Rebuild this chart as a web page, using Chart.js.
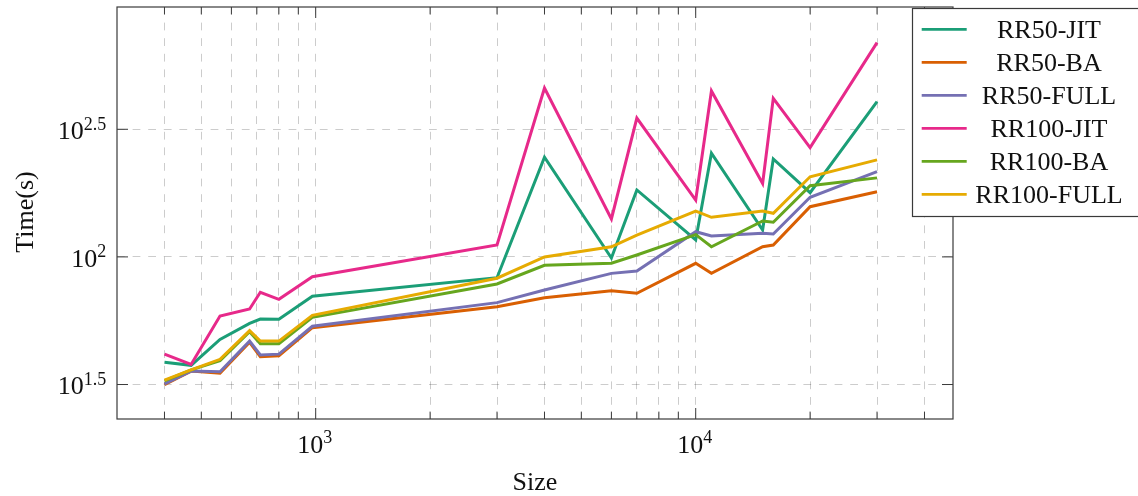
<!DOCTYPE html>
<html>
<head>
<meta charset="utf-8">
<script src="https://cdn.jsdelivr.net/npm/chart.js@4.4.1/dist/chart.umd.min.js"></script>
<style>
  html, body { margin: 0; padding: 0; background: #fff; }
  #wrap { width: 1138px; height: 496px; }
</style>
</head>
<body>
<div id="wrap"><canvas id="timeChart"></canvas></div>
<script>
// problem sizes (x) and run times in seconds (y)
const sizes = [400, 470, 560, 670, 715, 800, 980, 3000, 4000, 6000, 7000, 10000, 11000, 15000, 16000, 20000, 30000];

const rr50Jit   = [38.7, 37.6, 47.5, 54.9, 57.1, 57.0, 70.1, 82.9, 246, 99.0, 183, 116.5, 255, 127.5, 242, 178.5, 406];
const rr50Ba    = [31.6, 35.7, 35.0, 46.3, 40.6, 41.0, 52.8, 63.8, 69.2, 73.7, 72.0, 94.4, 86.2, 109.6, 111.3, 157.3, 180];
const rr50Full  = [31.8, 35.7, 35.5, 46.8, 41.3, 41.6, 53.5, 66.2, 74.2, 86.2, 88.1, 125.5, 120.8, 123.8, 123.0, 171.2, 215.8];
const rr100Jit  = [41.6, 37.9, 58.7, 62.5, 72.7, 68.2, 83.6, 111.3, 459, 140.8, 350, 167, 447, 194, 418, 268, 691];
const rr100Ba   = [32.7, 36.1, 39.2, 50.9, 45.7, 45.7, 58.0, 78.3, 92.7, 94.4, 101.7, 122.2, 109.6, 138.3, 136.7, 190, 204];
const rr100Full = [32.9, 36.1, 39.7, 51.4, 46.8, 46.8, 59.0, 82.5, 100, 109.6, 121.8, 151.3, 142.9, 151.3, 148.2, 206, 240];

const seriesNames  = ['RR50-JIT', 'RR50-BA', 'RR50-FULL', 'RR100-JIT', 'RR100-BA', 'RR100-FULL'];
const seriesData   = [rr50Jit, rr50Ba, rr50Full, rr100Jit, rr100Ba, rr100Full];
const seriesColors = ['#1b9e77', '#d95f02', '#7570b3', '#e7298a', '#66a61e', '#e6ab02'];

// axis ticks
const xGridTicks  = [400, 500, 600, 700, 800, 900, 1000, 2000, 3000, 4000, 5000, 6000, 7000, 8000, 9000, 10000, 20000, 30000, 40000];
const xMajorTicks = [1000, 10000];
const xLabelExps  = ['3', '4'];
const yTicks      = [Math.pow(10, 1.5), 100, Math.pow(10, 2.5)];
const yLabelExps  = ['1.5', '2', '2.5'];

const FONT = "'Liberation Serif', 'DejaVu Serif', serif";
const INK = '#111';

function drawPow(ctx, exp, x, y, align) {
  // "10" with a raised exponent; x is the centre or the right edge
  ctx.font = '26px ' + FONT;
  const wBase = ctx.measureText('10').width;
  ctx.font = '18px ' + FONT;
  const wExp = ctx.measureText(exp).width;
  let left = align === 'right' ? x - wBase - wExp : x - (wBase + wExp) / 2;
  ctx.textAlign = 'left';
  ctx.textBaseline = 'alphabetic';
  ctx.font = '26px ' + FONT;
  ctx.fillText('10', left, y);
  ctx.font = '18px ' + FONT;
  ctx.fillText(exp, left + wBase, y - 9.5);
}

const axisDecor = {
  id: 'axisDecor',
  afterDatasetsDraw(chart) {
    const {ctx, chartArea: a, scales: {x, y}} = chart;
    ctx.save();
    ctx.strokeStyle = '#3a3a3a';
    ctx.lineWidth = 1.2;
    ctx.strokeRect(a.left, a.top, a.right - a.left, a.bottom - a.top);

    // ticks point inwards, on all four sides
    ctx.lineWidth = 1;
    ctx.beginPath();
    xGridTicks.forEach(v => {
      const px = x.getPixelForValue(v);
      const len = xMajorTicks.includes(v) ? 11 : 7.4;
      ctx.moveTo(px, a.bottom); ctx.lineTo(px, a.bottom - len);
      ctx.moveTo(px, a.top); ctx.lineTo(px, a.top + len);
    });
    yTicks.forEach(v => {
      const py = y.getPixelForValue(v);
      ctx.moveTo(a.left, py); ctx.lineTo(a.left + 11, py);
      ctx.moveTo(a.right, py); ctx.lineTo(a.right - 11, py);
    });
    ctx.stroke();

    ctx.fillStyle = INK;
    xMajorTicks.forEach((v, i) => drawPow(ctx, xLabelExps[i], x.getPixelForValue(v) - 1, a.bottom + 33.7, 'center'));
    yTicks.forEach((v, i) => drawPow(ctx, yLabelExps[i], a.left - 10.7, y.getPixelForValue(v) + 9.8, 'right'));

    // axis titles
    ctx.font = '26px ' + FONT;
    ctx.textAlign = 'center';
    ctx.textBaseline = 'alphabetic';
    ctx.fillText('Size', (a.left + a.right) / 2, 489.5);
    ctx.save();
    ctx.translate(33.3, (a.top + a.bottom) / 2 - 1);
    ctx.rotate(-Math.PI / 2);
    ctx.fillText('Time(s)', 0, 0);
    ctx.restore();
    ctx.restore();
  },
  afterDraw(chart) {
    // legend box sits over the top-right corner of the plot
    const {ctx} = chart;
    ctx.save();
    ctx.fillStyle = '#fff';
    ctx.fillRect(912.5, 8.5, 240, 208);
    ctx.strokeStyle = '#3a3a3a';
    ctx.lineWidth = 1.2;
    ctx.strokeRect(912.5, 8.5, 240, 208);
    ctx.font = '26px ' + FONT;
    ctx.textAlign = 'center';
    ctx.textBaseline = 'alphabetic';
    seriesNames.forEach((name, i) => {
      const ly = 29.3 + i * 33;
      ctx.strokeStyle = seriesColors[i];
      ctx.lineWidth = 2.8;
      ctx.beginPath();
      ctx.moveTo(921.7, ly);
      ctx.lineTo(966.7, ly);
      ctx.stroke();
      ctx.fillStyle = INK;
      ctx.fillText(name, 1049, ly + 8.4);
    });
    ctx.restore();
  }
};

const ctx = document.getElementById('timeChart').getContext('2d');
const timeChart = new Chart(ctx, {
  type: 'line',
  data: {
    datasets: seriesNames.map((name, i) => ({
      label: name,
      data: sizes.map((s, j) => ({x: s, y: seriesData[i][j]})),
      borderColor: seriesColors[i],
      backgroundColor: seriesColors[i],
      borderWidth: 3,
      pointRadius: 0,
      tension: 0,
      fill: false,
      order: seriesNames.length - i
    }))
  },
  options: {
    responsive: true,
    maintainAspectRatio: false,
    animation: false,
    layout: {padding: {left: 117, right: 185, top: 7, bottom: 77}},
    plugins: {legend: {display: false}, tooltip: {enabled: false}},
    scales: {
      x: {
        type: 'logarithmic',
        min: 300,
        max: 47540,
        afterBuildTicks: scale => { scale.ticks = xGridTicks.map(v => ({value: v})); },
        ticks: {display: false},
        grid: {color: 'rgba(0,0,0,0.2)', lineWidth: 1, drawTicks: false},
        border: {display: false, dash: [7.8, 7.8]},
        title: {display: false}
      },
      y: {
        type: 'logarithmic',
        min: 23.17,
        max: 953,
        afterBuildTicks: scale => { scale.ticks = yTicks.map(v => ({value: v})); },
        ticks: {display: false},
        grid: {color: 'rgba(0,0,0,0.2)', lineWidth: 1, drawTicks: false},
        border: {display: false, dash: [7.8, 7.8]},
        title: {display: false}
      }
    }
  },
  plugins: [axisDecor]
});
</script>
</body>
</html>
